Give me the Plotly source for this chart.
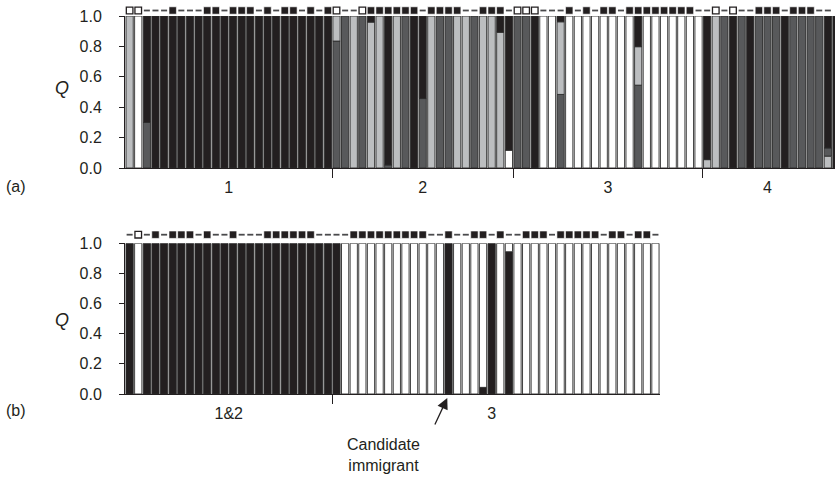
import plotly.graph_objects as go

# ---------------- Panel (a): K = 4 membership coefficients (Q) ----------------
# populations: 1 = bars 0-23, 2 = bars 24-44, 3 = bars 45-66, 4 = bars 67-82
q_black_a = [0, 0, .70, 1, 1, 1, 1, 1, 1, 1, 1, 1, 1, 1, 1, 1, 1, 1, 1, 1, 1, 1, 1, 1,
             0, 0, 0, 0, .04, 0, .98, 0, 0, 1, .543, 0, 0, 0, 0, 0, 0, 0, 0, .107, .883,
             0, 0, 1, 0, 0, .038, 0, 0, 0, 0, 0, 0, 0, 0, .202, 0, 0, 0, 0, 0, 0, 0,
             .945, 0, 0, 1, 0, 1, 0, 0, 0, 1, 0, 0, 0, 0, .868, 1]
q_dgray_a = [0, 0, .30, 0, 0, 0, 0, 0, 0, 0, 0, 0, 0, 0, 0, 0, 0, 0, 0, 0, 0, 0, 0, 0,
             .835, 1, 0, 1, 0, 0, .02, 0, 1, 0, .457, 0, 1, 1, 0, 0, 1, 0, 0, 0, 0,
             1, 1, 0, 0, 0, .484, 0, 0, 0, 0, 0, 0, 0, 0, .545, 0, 0, 0, 0, 0, 0, 0,
             0, 0, 1, 0, 1, 0, 1, 1, 1, 0, 1, 1, 1, 1, .055, 0]
q_lgray_a = [1, 0, 0, 0, 0, 0, 0, 0, 0, 0, 0, 0, 0, 0, 0, 0, 0, 0, 0, 0, 0, 0, 0, 0,
             .165, 0, 1, 0, .96, 1, 0, 1, 0, 0, 0, 1, 0, 0, 1, 1, 0, 1, 1, .893, 0,
             0, 0, 0, 0, 0, .478, 0, 0, 0, 0, 0, 0, 0, 0, .253, 0, 0, 0, 0, 0, 0, 0,
             .055, 1, 0, 0, 0, 0, 0, 0, 0, 0, 0, 0, 0, 0, .077, 0]
q_white_a = [0, 1, 0, 0, 0, 0, 0, 0, 0, 0, 0, 0, 0, 0, 0, 0, 0, 0, 0, 0, 0, 0, 0, 0,
             0, 0, 0, 0, 0, 0, 0, 0, 0, 0, 0, 0, 0, 0, 0, 0, 0, 0, 0, 0, .117,
             0, 0, 0, 1, 1, 0, 1, 1, 1, 1, 1, 1, 1, 1, 0, 1, 1, 1, 1, 1, 1, 1,
             0, 0, 0, 0, 0, 0, 0, 0, 0, 0, 0, 0, 0, 0, 0, 0]
# sample-type symbols above each bar: o = open square, x = filled square, - = dash
marks_a = ("oo---" "x---x" "x-xxx" "-x-xx" "-x-xo" "--oxx" "xxxx-" "xxxx-" "-xxx-"
           "ooo--" "-x-x-" "xx-xx" "xxxxx" "x--o-" "o--xx" "x-xxx" "--x")
group_labels_a = ["1", "2", "3", "4"]
group_centers_a = [11.5, 34, 55.5, 74]
group_bounds_a = [23.5, 44.5, 66.5]

# ---------------- Panel (b): K = 2 ----------------
q_black_b = [1, 0, 1, 1, 1, 1, 1, 1, 1, 1, 1, 1, 1, 1, 1, 1, 1, 1, 1, 1, 1, 1, 1, 1, 1,
             0, 0, 0, 0, 0, 0, 0, 0, 0, 0, 0, 0, 1, 0, 0, 0, .044, 1, 0, .944,
             0, 0, 0, 0, 0, 0, 0, 0, 0, 0, 0, 0, 0, 0, 0, 0, 0]
q_white_b = [0, 1, 0, 0, 0, 0, 0, 0, 0, 0, 0, 0, 0, 0, 0, 0, 0, 0, 0, 0, 0, 0, 0, 0, 0,
             1, 1, 1, 1, 1, 1, 1, 1, 1, 1, 1, 1, 0, 1, 1, 1, .956, 0, 1, .056,
             1, 1, 1, 1, 1, 1, 1, 1, 1, 1, 1, 1, 1, 1, 1, 1, 1]
marks_b = ("-o-x-" "xxx-x" "--x--" "-xxxx" "xx---" "-xxxx" "xxxxx" "--x--" "xx-x-"
           "-xxx-" "xxxxx" "-xx-x" "x-")
group_labels_b = ["1&2", "3"]
group_centers_b = [11.5, 42]
group_bounds_b = [23.5]
immigrant_index = 37

COLORS = {"black": "#231f20", "dgray": "#58595b", "lgray": "#bcbec0", "white": "#ffffff"}
OUTLINE = "#2b2b2b"
INK = "#231f20"

fig = go.Figure()


def stacked(qs, order_default, overrides, xa, ya):
    n = len(next(iter(qs.values())))
    bases = {k: [None] * n for k in qs}
    for i in range(n):
        order = overrides.get(i, order_default)
        acc = 0.0
        for k in order:
            bases[k][i] = acc
            acc += qs[k][i]
    for k in qs:
        ys = [v if v > 0 else None for v in qs[k]]
        fig.add_trace(go.Bar(
            x=list(range(n)), y=ys, base=bases[k], width=0.84,
            marker=dict(color=COLORS[k], line=dict(color=OUTLINE, width=0.9)),
            xaxis=xa, yaxis=ya, cliponaxis=False, hoverinfo="skip"))


def marks(code, ypos, xa, ya):
    xs_f = [i for i, c in enumerate(code) if c == "x"]
    xs_o = [i for i, c in enumerate(code) if c == "o"]
    xs_d = [i for i, c in enumerate(code) if c == "-"]
    fig.add_trace(go.Scatter(x=xs_d, y=[ypos] * len(xs_d), mode="markers", xaxis=xa, yaxis=ya,
                             marker=dict(symbol="line-ew", size=4.3, line=dict(width=1.8, color="#4a4a4c")),
                             cliponaxis=False, hoverinfo="skip"))
    fig.add_trace(go.Scatter(x=xs_f, y=[ypos] * len(xs_f), mode="markers", xaxis=xa, yaxis=ya,
                             marker=dict(symbol="square", size=7.4, color=INK, line=dict(width=0.6, color="white")),
                             cliponaxis=False, hoverinfo="skip"))
    fig.add_trace(go.Scatter(x=xs_o, y=[ypos] * len(xs_o), mode="markers", xaxis=xa, yaxis=ya,
                             marker=dict(symbol="square", size=6.6, color="white", line=dict(width=1.3, color=INK)),
                             cliponaxis=False, hoverinfo="skip"))


stacked({"white": q_white_a, "dgray": q_dgray_a, "lgray": q_lgray_a, "black": q_black_a},
        ["white", "dgray", "lgray", "black"], {81: ["lgray", "dgray", "white", "black"]}, "x", "y")
stacked({"black": q_black_b, "white": q_white_b}, ["black", "white"], {}, "x2", "y2")
# marker rows live on thin strip axes (ranges in pixels) just above each panel
marks(marks_a, 5.5, "x", "y3")
marks(marks_b, 8.6, "x2", "y4")

# ---- geometry ----
H_TOP, H_BOT = 2, 89
PH = 483 - H_TOP - H_BOT


def py(yp):
    return (394 - yp) / PH


def px(xp):
    return (xp - 125) / 710


PITCH = 8.62
x0 = -0.42 - 1 / PITCH
x1a = x0 + 710 / PITCH
x1b = x0 + 535 / PITCH

xcommon = dict(showline=True, linecolor=INK, linewidth=1, ticks="", showgrid=False, zeroline=False,
               tickfont=dict(size=16, color=INK), ticklabelstandoff=5, automargin=False)
ycommon = dict(range=[0, 1], tickvals=[0, .2, .4, .6, .8, 1.0], tickformat=".1f", ticks="outside",
               ticklen=5, tickwidth=1, tickcolor=INK, showline=True, linecolor=INK, linewidth=1,
               showgrid=False, zeroline=False, tickfont=dict(size=16, color=INK), ticklabelstandoff=14,
               automargin=False)
strip = dict(visible=False, showgrid=False, zeroline=False, fixedrange=True)

fig.update_layout(
    width=835, height=483, margin=dict(l=125, r=0, t=H_TOP, b=H_BOT, autoexpand=False),
    plot_bgcolor="white", paper_bgcolor="white", showlegend=False, barmode="overlay",
    font=dict(family="Liberation Sans, Arial, sans-serif", size=16, color=INK),
    xaxis=dict(domain=[0, 1], range=[x0, x1a], anchor="y", tickvals=group_centers_a, ticktext=group_labels_a,
               minor=dict(tickmode="array", tickvals=group_bounds_a, ticks="outside", ticklen=9,
                          tickwidth=1, tickcolor=INK, showgrid=False), **xcommon),
    yaxis=dict(domain=[py(168), py(16)], anchor="x", **ycommon),
    xaxis2=dict(domain=[0, 535 / 710], range=[x0, x1b], anchor="y2", tickvals=group_centers_b,
                ticktext=group_labels_b,
                minor=dict(tickmode="array", tickvals=group_bounds_b, ticks="outside", ticklen=9,
                           tickwidth=1, tickcolor=INK, showgrid=False), **xcommon),
    yaxis2=dict(domain=[0, py(243.3)], anchor="x2", **ycommon),
    yaxis3=dict(domain=[py(16), py(2)], range=[0, 14], anchor="x", **strip),
    yaxis4=dict(domain=[py(243.3), py(229)], range=[0, 14.3], anchor="x2", **strip),
)

for txt, xp, yp, sz, ital in [("(a)", 16, 186, 16, False), ("(b)", 16, 411, 16, False),
                              ("Q", 62, 88, 18, True), ("Q", 62, 320, 18, True)]:
    fig.add_annotation(x=px(xp), y=py(yp), xref="paper", yref="paper", text=f"<i>{txt}</i>" if ital else txt,
                       showarrow=False, xanchor="center", yanchor="middle", font=dict(size=sz, color=INK))

# candidate immigrant label and arrow (points to the immigrant bar in panel b)
fig.add_annotation(x=px(383), y=py(454.5), xref="paper", yref="paper", text="Candidate<br>immigrant",
                   showarrow=False, xanchor="center", yanchor="middle", font=dict(size=16, color=INK))
fig.add_annotation(x=immigrant_index - 0.15, y=py(398), xref="x2", yref="paper", ax=-14, ay=30, text="|",
                   font=dict(size=3, color="rgba(0,0,0,0)"), showarrow=True, arrowhead=2, arrowsize=1.7,
                   arrowwidth=1.3, arrowcolor=INK)

# the page body has a default 8px margin; remove it so the figure sits at the window origin
fig.write_html("out.html", config={"displayModeBar": False},
               post_script="document.body.style.margin='0';")
